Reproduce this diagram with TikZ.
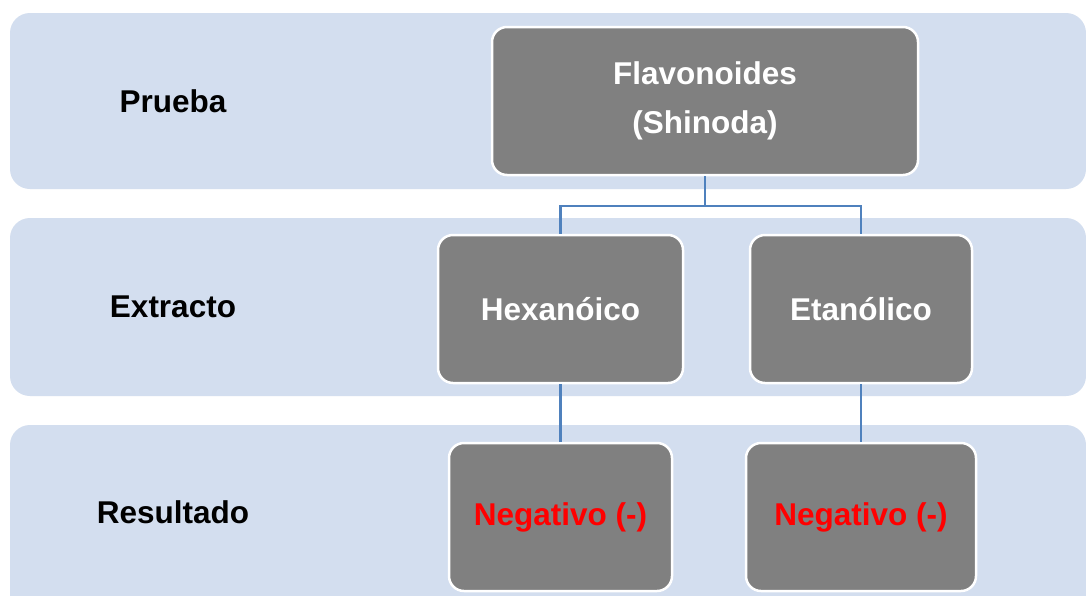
\documentclass[tikz,border=0pt]{standalone}
\usepackage{fontspec}
\setmainfont{Liberation Sans}
\definecolor{bandblue}{HTML}{D3DEEF}
\definecolor{boxgray}{HTML}{808080}
\definecolor{linkblue}{HTML}{4F81BD}
\definecolor{negred}{HTML}{FF0000}
\begin{document}
\begin{tikzpicture}[x=1pt,y=-1pt,
  band/.style={fill=bandblue, draw=none, rounded corners=20pt},
  gbox/.style={fill=boxgray, draw=white, line width=2.5pt, rounded corners=15pt,
    minimum height=148pt, inner sep=0pt, align=center, text=white,
    font=\fontsize{31.5}{49}\selectfont\bfseries},
  lbl/.style={font=\fontsize{31.5}{38}\selectfont\bfseries, text=black, inner sep=0pt},
  link/.style={draw=linkblue, line width=2.6pt}]
\useasboundingbox (0,0) rectangle (1086,595);
\fill[white] (0,0) rectangle (1086,595);
\clip (0,0) rectangle (1086,595);
% bands
\path[band] (10,13) rectangle (1086,189);
\path[band] (10,218) rectangle (1086,396);
\path[band] (10,425) rectangle (1086,640);
% labels
\node[lbl] (lprueba) at (173,101) {Prueba};
\node[lbl] (lextracto) at (173,307) {Extracto};
\node[lbl] (lresultado) at (173,512) {Resultado};
% boxes
\node[gbox, minimum width=426pt] (flav) at (705,101) {\raisebox{-5pt}{Flavonoides}\\\raisebox{-5pt}{(Shinoda)}};
\node[gbox, minimum width=245pt] (hex) at (560.5,309) {Hexanóico};
\node[gbox, minimum width=222pt] (eta) at (861,309) {Etanólico};
\node[gbox, minimum width=223pt, text=negred] (negh) at (560.5,517) {\raisebox{-3pt}{Negativo (-)}};
\node[gbox, minimum width=230pt, text=negred] (nege) at (861,517) {\raisebox{-3pt}{Negativo (-)}};
% connectors
\coordinate (junc) at (705,206);
\draw[link] (flav.south) -- (junc);
\draw[link] (junc) -| (hex.north);
\draw[link] (junc) -| (eta.north);
\draw[link] (hex.south) -- (hex.south |- negh.north);
\draw[link] (eta.south) -- (eta.south |- nege.north);
\end{tikzpicture}
\end{document}
